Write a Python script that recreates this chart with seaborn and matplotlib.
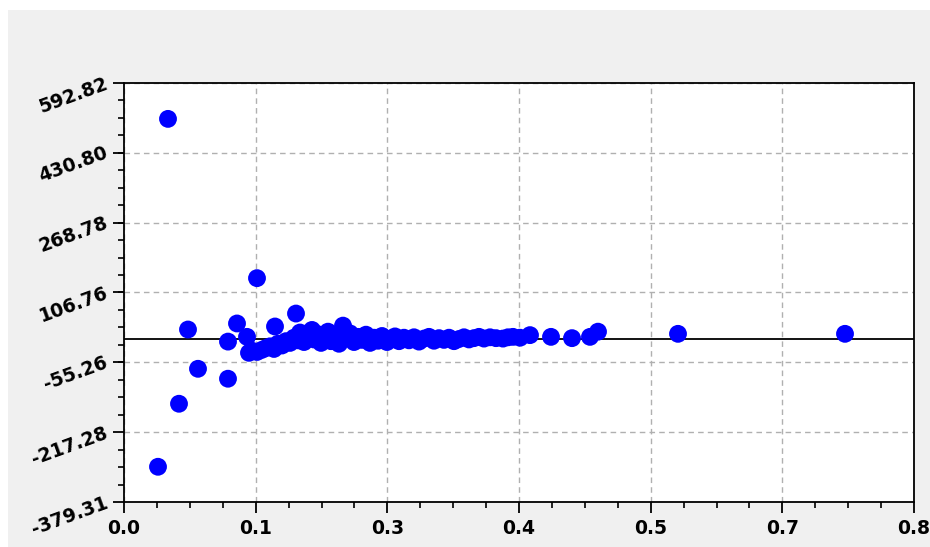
import numpy as np
import pandas as pd
import matplotlib
matplotlib.use("Agg")
import matplotlib.pyplot as plt
from matplotlib.ticker import AutoMinorLocator, FixedLocator
from matplotlib.patches import Rectangle
import seaborn as sns

# ---- data ----
x_vals = [0.044, 0.034, 0.055, 0.074, 0.064, 0.104, 0.104, 0.113, 0.133, 0.123,
          0.151, 0.172, 0.219,
          0.125, 0.128, 0.133, 0.138, 0.142, 0.146, 0.150, 0.154, 0.158, 0.162,
          0.166, 0.170, 0.174, 0.176, 0.180, 0.184, 0.188, 0.190, 0.194, 0.197,
          0.200, 0.204, 0.207, 0.211, 0.215, 0.222, 0.226, 0.230, 0.234, 0.238,
          0.242, 0.246, 0.250, 0.254, 0.258, 0.263, 0.267, 0.271, 0.275, 0.280,
          0.285, 0.290, 0.295, 0.300, 0.305, 0.310, 0.315, 0.320, 0.325, 0.330,
          0.335, 0.340, 0.345, 0.350, 0.355, 0.360, 0.366, 0.372, 0.379, 0.384,
          0.389, 0.396, 0.406, 0.427, 0.448, 0.466, 0.474, 0.554, 0.721]
y_vals = [509, -297, -151, -70, 21, -7, -93, 35, 140, 4,
          28, 58, 30,
          -33, -28, -31, -26, -22, -18, -24, -12, -16, -6,
          -10, 2, -4, 14, -8, 6, 20, -2, 10, -10,
          4, 16, -6, 8, -12, 2, 12, -8, 4, -3,
          9, -10, 2, -5, 6, -8, 0, 5, -6, 2,
          -4, 3, -7, 0, 4, -5, 1, -3, 2, -6,
          -1, 3, -2, 1, 4, 0, 3, 1, 0, 3,
          4, 2, 8, 4, 1, 4, 16, 11, 11]

y_tick_values = [-379.31, -217.28, -55.26, 106.76, 268.78, 430.80, 592.82]
y_tick_labels = ["-379.31", "-217.28", "-55.26", "106.76", "268.78", "430.80", "592.82"]
x_tick_labels = ["0.0", "0.1", "0.3", "0.4", "0.5", "0.7", "0.8"]
x_max = 0.79

df = pd.DataFrame({"x": x_vals, "y": y_vals})

# ---- figure ----
sns.set_style("white")
plt.rcParams["font.family"] = ["DejaVu Sans"]

W, H, DPI = 930, 547, 100
fig = plt.figure(figsize=(W / DPI, H / DPI), dpi=DPI, facecolor="white")
fig.patches.append(Rectangle((8 / W, 0), 1 - 8 / W, (H - 10) / H,
                             transform=fig.transFigure, facecolor="#f0f0f0",
                             edgecolor="none", zorder=-10))

left, right, top, bottom = 124, 914, 82.7, 502.3
ax = fig.add_axes([left / W, (H - bottom) / H, (right - left) / W, (bottom - top) / H])
ax.set_zorder(5)
ax.set_facecolor("white")

ax.axhline(0, color="black", lw=1.3, zorder=1)
sns.scatterplot(data=df, x="x", y="y", ax=ax, color="#0000ff", s=165,
                linewidth=0, edgecolor="none", zorder=3)

ax.set_xlim(0, x_max)
ax.set_ylim(y_tick_values[0], y_tick_values[-1])

ax.xaxis.set_major_locator(FixedLocator(np.linspace(0, x_max, len(x_tick_labels))))
ax.set_xticklabels(x_tick_labels)
ax.yaxis.set_major_locator(FixedLocator(y_tick_values))
ax.set_yticklabels(y_tick_labels)
ax.xaxis.set_minor_locator(AutoMinorLocator(4))
ax.yaxis.set_minor_locator(AutoMinorLocator(4))

ax.tick_params(axis="both", which="major", direction="out", length=8, width=1.3,
               color="black", labelcolor="black", labelsize=13.5, pad=4)
ax.tick_params(axis="both", which="minor", direction="out", length=4.5, width=1.2,
               color="black")
ax.tick_params(axis="x", which="both", bottom=True)
ax.tick_params(axis="y", which="both", left=True)

for lab in ax.get_xticklabels() + ax.get_yticklabels():
    lab.set_fontweight("bold")
    lab.set_color("black")
for lab in ax.get_yticklabels():
    lab.set_rotation(20)
    lab.set_rotation_mode("anchor")
    lab.set_ha("right")
    lab.set_va("center")

ax.grid(True, which="major", linestyle=(0, (4, 3)), color="#b0b0b0", lw=1.0, zorder=0)
ax.set_axisbelow(True)

for sp in ax.spines.values():
    sp.set_visible(True)
    sp.set_color("black")
    sp.set_linewidth(1.3)

ax.set_xlabel("")
ax.set_ylabel("")

fig.savefig("out.png", dpi=DPI, facecolor=fig.get_facecolor())
